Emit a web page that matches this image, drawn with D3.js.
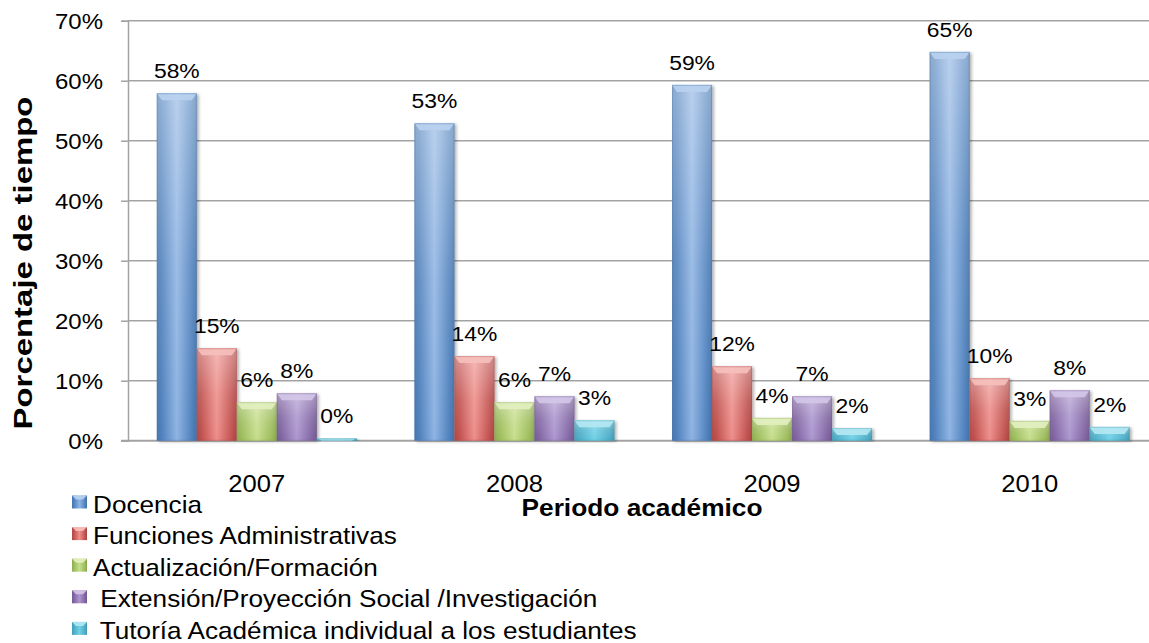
<!DOCTYPE html>
<html>
<head>
<meta charset="utf-8">
<script src="https://cdn.jsdelivr.net/npm/d3@7"></script>
<style>
  html, body { margin: 0; padding: 0; background: #fff; }
  svg { display: block; font-family: "Liberation Sans", Arial, sans-serif; }
  text { white-space: pre; }
</style>
</head>
<body>
<svg id="chart" width="1149" height="643"></svg>
<script>
// ---------- data ----------
const years = ["2007", "2008", "2009", "2010"];
const seriesNames = [
  "Docencia",
  "Funciones Administrativas",
  "Actualización/Formación",
  " Extensión/Proyección Social /Investigación",
  " Tutoría Académica individual a los estudiantes"
];
const docencia      = [57.9, 52.9, 59.3, 64.8];
const funciones     = [15.4, 14.1, 12.4, 10.4];
const actualizacion = [6.4, 6.4, 3.8, 3.3];
const extension     = [7.9, 7.4, 7.4, 8.4];
const tutoria       = [0.4, 3.4, 2.1, 2.3];
const yTicks = [0, 10, 20, 30, 40, 50, 60, 70];
const seriesColors = [
  { base: "#4f81bd", light: "#8fb4e3", top: "#b9d1ef" },
  { base: "#c0504d", light: "#ee8e8a", top: "#f6c0bd" },
  { base: "#9bbb59", light: "#c6de8c", top: "#e2f0c0" },
  { base: "#8064a2", light: "#ad97cf", top: "#d3c6e8" },
  { base: "#4bacc6", light: "#6fd0e6", top: "#b4e8f3" }
];
const allSeries = [docencia, funciones, actualizacion, extension, tutoria];

// ---------- layout ----------
const svg = d3.select("#chart");
const SX = 1.09; // horizontal glyph stretch of the reference
const plotLeft = 128, plotRight = 1158.5, plotTop = 20.7, plotBottom = 440.7;
const gridColor = "#a3a3a3";

const y = d3.scaleLinear().domain([0, 70]).range([plotBottom, plotTop]);
const x0 = d3.scaleBand().domain(years).range([plotLeft, plotRight])
  .paddingInner(0.2236).paddingOuter(0.1118);
const x1 = d3.scaleBand().domain(d3.range(seriesNames.length)).range([0, x0.bandwidth()]);

// ---------- defs ----------
const defs = svg.append("defs");
seriesColors.forEach((c, i) => {
  const g = defs.append("linearGradient").attr("id", "hg" + i)
    .attr("x1", "0").attr("x2", "1").attr("y1", "0").attr("y2", "0");
  g.append("stop").attr("offset", "0").attr("stop-color", d3.color(c.base).darker(0.25));
  g.append("stop").attr("offset", "0.12").attr("stop-color", c.base);
  g.append("stop").attr("offset", "0.5").attr("stop-color", c.light);
  g.append("stop").attr("offset", "0.88").attr("stop-color", c.base);
  g.append("stop").attr("offset", "1").attr("stop-color", d3.color(c.base).darker(0.4));
});
const vg = defs.append("linearGradient").attr("id", "vg")
  .attr("x1", "0").attr("x2", "0").attr("y1", "0").attr("y2", "1");
vg.append("stop").attr("offset", "0").attr("stop-color", "#fff").attr("stop-opacity", 0.38);
vg.append("stop").attr("offset", "0.5").attr("stop-color", "#fff").attr("stop-opacity", 0.12);
vg.append("stop").attr("offset", "1").attr("stop-color", "#fff").attr("stop-opacity", 0);
const f = defs.append("filter").attr("id", "shadow").attr("x", "-20%").attr("y", "-5%")
  .attr("width", "150%").attr("height", "115%");
f.append("feDropShadow").attr("dx", 2).attr("dy", 1).attr("stdDeviation", 1.5)
  .attr("flood-color", "#000").attr("flood-opacity", 0.3);

// ---------- gridlines ----------
svg.append("g").selectAll("line").data(yTicks.filter(d => d > 0)).join("line")
  .attr("x1", plotLeft).attr("x2", plotRight)
  .attr("y1", d => y(d)).attr("y2", d => y(d))
  .attr("stroke", gridColor).attr("stroke-width", 1.5);

// ---------- y axis ----------
const yAxis = svg.append("g").attr("transform", `translate(${plotLeft},0)`)
  .call(d3.axisLeft(y).tickValues(yTicks).tickSize(7).tickFormat(d => d + "%"));
yAxis.select(".domain").attr("stroke", gridColor).attr("stroke-width", 1.5);
yAxis.selectAll(".tick line").attr("stroke", gridColor).attr("stroke-width", 1.5);
yAxis.selectAll(".tick text")
  .attr("x", -25 / SX).attr("dy", "0.36em")
  .attr("transform", `scale(${SX},1)`)
  .attr("font-size", 22).attr("fill", "#000")
  .attr("font-family", "Liberation Sans, Arial, sans-serif");

// x baseline
svg.append("line").attr("x1", plotLeft - 7).attr("x2", plotRight)
  .attr("y1", y(0)).attr("y2", y(0)).attr("stroke", gridColor).attr("stroke-width", 2);

// ---------- bars ----------
const groups = svg.append("g").selectAll("g").data(years).join("g")
  .attr("transform", d => `translate(${x0(d)},0)`);

groups.each(function (yr, yi) {
  const g = d3.select(this);
  allSeries.forEach((vals, si) => {
    const v = vals[yi];
    const bx = x1(si), bw = x1.bandwidth();
    const by = y(v), bh = y(0) - y(v);
    const bar = g.append("g");
    bar.append("rect").attr("x", bx).attr("y", by).attr("width", bw).attr("height", bh)
      .attr("fill", `url(#hg${si})`).attr("filter", "url(#shadow)");
    bar.append("rect").attr("x", bx).attr("y", by).attr("width", bw).attr("height", bh)
      .attr("fill", "url(#vg)");
    const bev = Math.min(7, bh);
    if (bh > 1) {
      bar.append("path")
        .attr("d", `M${bx},${by} L${bx + bw},${by} L${bx + bw - 5},${by + bev} L${bx + 5},${by + bev} Z`)
        .attr("fill", seriesColors[si].top).attr("opacity", 0.9);
    }
    bar.append("rect").attr("x", bx + 0.5).attr("y", by + 0.5).attr("width", bw - 1).attr("height", Math.max(0, bh - 1))
      .attr("fill", "none").attr("stroke", d3.color(seriesColors[si].base).darker(0.3)).attr("stroke-opacity", 0.35);
    bar.append("g").attr("transform", `translate(${bx + bw / 2},${by - 15}) scale(${SX},1)`)
      .append("text").attr("text-anchor", "middle").attr("font-size", 21).attr("fill", "#000")
      .text(d3.format(".0f")(v) + "%");
  });
});

// ---------- x tick labels ----------
svg.append("g").selectAll("g").data(years).join("g")
  .attr("transform", d => `translate(${x0(d) + x0.bandwidth() / 2},492) scale(${SX},1)`)
  .append("text").attr("text-anchor", "middle").attr("font-size", 23.5).attr("fill", "#000")
  .text(d => d);

// ---------- axis titles ----------
svg.append("text").attr("x", 642).attr("y", 516).attr("text-anchor", "middle")
  .attr("font-size", 24).attr("font-weight", "bold").attr("fill", "#000")
  .attr("textLength", 241).attr("lengthAdjust", "spacingAndGlyphs")
  .text("Periodo académico");

svg.append("text").attr("transform", "translate(32,263) rotate(-90)")
  .attr("text-anchor", "middle").attr("font-size", 25).attr("font-weight", "bold").attr("fill", "#000")
  .attr("textLength", 333).attr("lengthAdjust", "spacingAndGlyphs")
  .text("Porcentaje de tiempo");

// ---------- legend ----------
const legend = svg.append("g").selectAll("g").data(seriesNames).join("g")
  .attr("transform", (d, i) => `translate(0,${512.5 + i * 31.6})`);
legend.append("rect").attr("x", 72).attr("y", -17).attr("width", 15).attr("height", 13)
  .attr("fill", (d, i) => `url(#hg${i})`);
legend.append("path").attr("d", "M72,-17 L87,-17 L83,-13 L76,-13 Z")
  .attr("fill", (d, i) => seriesColors[i].top).attr("opacity", 0.9);
legend.append("g").attr("transform", `translate(93,0) scale(${SX},1)`)
  .append("text").attr("font-size", 24).attr("fill", "#000").text(d => d);
</script>
</body>
</html>
